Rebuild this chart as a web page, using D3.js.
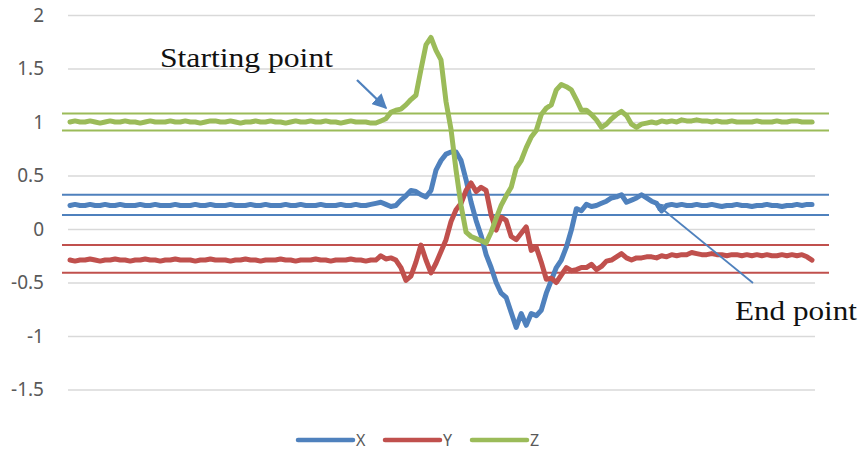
<!DOCTYPE html>
<html lang="en">
<head>
  <meta charset="UTF-8">
  <title>X Y Z</title>
  <script src="https://d3js.org/d3.v7.min.js"></script>
  <style>
    body { margin: 0; background: #fff; }
    .axis-y text { font-family: "Noto Sans", sans-serif; font-size: 19px; fill: #595959; }
    .legend text { font-family: "Noto Sans", sans-serif; font-size: 16px; fill: #595959; }
    .note { font-family: "Liberation Serif", "Times New Roman", serif; font-size: 28px; fill: #111; }
  </style>
</head>
<body>
  <div id="chart"></div>

  <script>
    // tick labels on the value axis
    const yTicks = [2, 1.5, 1, 0.5, 0, -0.5, -1, -1.5];

    // series values (one sample every few ms)
    const xValues = [
      0.22,0.23,0.22,0.22,0.23,0.22,0.22,0.23,0.22,0.22,
      0.23,0.22,0.22,0.22,0.23,0.22,0.22,0.23,0.22,0.22,
      0.22,0.23,0.22,0.22,0.22,0.23,0.22,0.22,0.23,0.22,
      0.22,0.22,0.23,0.22,0.22,0.22,0.23,0.22,0.22,0.23,
      0.22,0.22,0.22,0.23,0.22,0.22,0.23,0.22,0.22,0.22,
      0.23,0.22,0.22,0.22,0.23,0.22,0.22,0.23,0.22,0.22,0.23,
      0.24,0.25,0.23,0.21,0.22,0.27,0.31,0.36,0.35,0.32,
      0.30,0.36,0.55,0.64,0.70,0.72,0.72,0.64,0.46,0.25,
      0.08,-0.06,-0.24,-0.36,-0.50,-0.60,-0.64,-0.78,-0.92,-0.79,
      -0.90,-0.79,-0.81,-0.76,-0.60,-0.48,-0.36,-0.29,-0.17,-0.01,
      0.19,0.17,0.23,0.21,0.22,0.24,0.26,0.29,0.30,0.32,
      0.25,0.27,0.29,0.32,0.29,0.26,0.24,0.17,0.22,0.23,
      0.22,0.23,0.22,0.22,0.23,0.22,0.22,0.23,0.22,0.21,
      0.22,0.22,0.23,0.22,0.22,0.21,0.22,0.22,0.23,0.22,
      0.22,0.21,0.22,0.22,0.23,0.22,0.23,0.23
    ];

    const yValues = [
      -0.29,-0.30,-0.29,-0.29,-0.28,-0.29,-0.30,-0.29,-0.29,-0.28,
      -0.29,-0.29,-0.30,-0.29,-0.29,-0.28,-0.29,-0.29,-0.30,-0.29,
      -0.29,-0.28,-0.29,-0.29,-0.29,-0.30,-0.29,-0.29,-0.28,-0.29,
      -0.29,-0.29,-0.30,-0.29,-0.29,-0.28,-0.29,-0.29,-0.30,-0.29,
      -0.29,-0.29,-0.28,-0.29,-0.29,-0.30,-0.29,-0.29,-0.29,-0.28,
      -0.29,-0.29,-0.30,-0.29,-0.29,-0.29,-0.28,-0.29,-0.29,-0.30,-0.29,
      -0.29,-0.25,-0.28,-0.27,-0.29,-0.36,-0.48,-0.44,-0.31,-0.15,
      -0.29,-0.41,-0.32,-0.21,-0.10,0.07,0.18,0.24,0.36,0.43,
      0.35,0.39,0.36,0.13,-0.01,0.11,0.08,-0.07,-0.10,-0.04,
      0.02,-0.20,-0.17,-0.31,-0.47,-0.46,-0.50,-0.43,-0.36,-0.39,
      -0.38,-0.36,-0.36,-0.33,-0.38,-0.35,-0.30,-0.29,-0.26,-0.23,
      -0.27,-0.29,-0.27,-0.27,-0.26,-0.26,-0.27,-0.25,-0.26,-0.24,
      -0.25,-0.24,-0.24,-0.22,-0.23,-0.24,-0.24,-0.23,-0.24,-0.24,
      -0.25,-0.24,-0.24,-0.25,-0.24,-0.25,-0.24,-0.25,-0.24,-0.25,
      -0.25,-0.24,-0.25,-0.24,-0.25,-0.24,-0.26,-0.29
    ];

    const zValues = [
      1.00,1.01,1.00,1.00,1.01,1.00,0.99,1.00,1.01,1.00,
      1.00,1.01,1.00,1.00,0.99,1.00,1.01,1.00,1.00,1.00,
      1.01,1.00,1.00,1.01,1.00,1.00,0.99,1.00,1.01,1.01,
      1.00,1.00,1.01,1.00,0.99,1.00,1.00,1.01,1.00,1.00,
      1.01,1.00,1.00,0.99,1.00,1.01,1.00,1.00,1.01,1.00,
      1.00,1.01,1.00,1.00,0.99,1.00,1.01,1.00,1.00,1.00,0.99,
      0.99,1.01,1.03,1.09,1.11,1.12,1.16,1.21,1.25,1.49,
      1.72,1.79,1.67,1.58,1.19,0.93,0.55,0.22,-0.03,-0.07,
      -0.09,-0.11,-0.13,-0.03,0.10,0.22,0.31,0.39,0.57,0.64,
      0.76,0.86,0.92,1.07,1.13,1.16,1.30,1.35,1.33,1.30,
      1.21,1.11,1.11,1.07,1.02,0.95,0.98,1.03,1.07,1.10,
      1.06,0.98,0.95,0.98,0.99,1.00,0.99,1.01,1.00,1.01,
      1.00,1.02,1.01,1.01,1.02,1.01,1.01,1.00,1.01,1.00,
      1.00,1.01,1.00,1.00,1.00,1.00,1.01,1.00,1.00,1.00,
      1.01,1.00,1.00,1.01,1.01,1.00,1.00,1.00
    ];

    // tolerance bands around each resting level
    const xBand = [0.13, 0.32];
    const yBand = [-0.41, -0.15];
    const zBand = [0.92, 1.08];

    const seriesNames = ["X", "Y", "Z"];
    const colors = ["#4f81bd", "#c0504d", "#9bbb59"];

    const W = 862, H = 455;
    const plotLeft = 68, plotRight = 815;

    const svg = d3.select("#chart").append("svg")
      .attr("width", W)
      .attr("height", H);

    const y = d3.scaleLinear()
      .domain([-1.5, 2])
      .range([389.5, 15]);

    const x = d3.scaleLinear()
      .domain([0, xValues.length - 1])
      .range([70, 812]);

    // gridlines + labels (plain hyphen for negatives, like the original)
    const axisY = svg.append("g")
      .attr("class", "axis-y")
      .attr("transform", `translate(${plotLeft},0)`)
      .call(d3.axisLeft(y).tickValues(yTicks).tickSize(-(plotRight - plotLeft)).tickPadding(24)
        .tickFormat(d => String(d)));
    axisY.select(".domain").remove();
    axisY.selectAll("line").attr("stroke", "#d9d9d9").attr("stroke-width", 1.5);

    // band lines
    const bands = [xBand, yBand, zBand];
    bands.forEach((b, i) => {
      svg.append("g").selectAll("line")
        .data(b)
        .enter().append("line")
        .attr("x1", 62)
        .attr("x2", 829)
        .attr("y1", d => y(d))
        .attr("y2", d => y(d))
        .attr("stroke", colors[i])
        .attr("stroke-width", 2);
    });

    // data lines
    const line = d3.line()
      .x((d, i) => x(i))
      .y(d => y(d));

    [xValues, yValues, zValues].forEach((vals, i) => {
      svg.append("path")
        .datum(vals)
        .attr("d", line)
        .attr("fill", "none")
        .attr("stroke", colors[i])
        .attr("stroke-width", 5)
        .attr("stroke-linejoin", "round")
        .attr("stroke-linecap", "round");
    });

    // annotations
    const defs = svg.append("defs");
    function arrowHead(id, size) {
      defs.append("marker")
        .attr("id", id)
        .attr("viewBox", "0 0 10 10")
        .attr("refX", 9)
        .attr("refY", 5)
        .attr("markerWidth", size)
        .attr("markerHeight", size)
        .attr("markerUnits", "strokeWidth")
        .attr("orient", "auto")
        .append("path")
        .attr("d", "M0,0 L10,5 L0,10 z")
        .attr("fill", "#4f81bd");
    }
    arrowHead("head-big", 6.5);
    arrowHead("head-small", 5);

    svg.append("text")
      .attr("class", "note")
      .attr("x", 160)
      .attr("y", 67)
      .attr("textLength", 173)
      .attr("lengthAdjust", "spacingAndGlyphs")
      .text("Starting point");

    svg.append("line")
      .attr("x1", 357).attr("y1", 80)
      .attr("x2", 386).attr("y2", 108)
      .attr("stroke", "#4f81bd")
      .attr("stroke-width", 2.3)
      .attr("marker-end", "url(#head-big)");

    svg.append("text")
      .attr("class", "note")
      .attr("x", 735)
      .attr("y", 320)
      .attr("textLength", 122)
      .attr("lengthAdjust", "spacingAndGlyphs")
      .text("End point");

    svg.append("line")
      .attr("x1", 753).attr("y1", 283)
      .attr("x2", 655).attr("y2", 203)
      .attr("stroke", "#4f81bd")
      .attr("stroke-width", 1.8)
      .attr("marker-end", "url(#head-small)");

    // legend
    const legendX = [298, 385, 472];
    const legend = svg.append("g")
      .attr("class", "legend")
      .selectAll("g")
      .data(seriesNames)
      .enter().append("g")
      .attr("transform", (d, i) => `translate(${legendX[i]},440)`);

    legend.append("line")
      .attr("x1", 0)
      .attr("x2", 55)
      .attr("stroke", (d, i) => colors[i])
      .attr("stroke-width", 4.5)
      .attr("stroke-linecap", "round");

    legend.append("text")
      .attr("x", 58)
      .attr("dy", "0.35em")
      .text(d => d);
  </script>
</body>
</html>
